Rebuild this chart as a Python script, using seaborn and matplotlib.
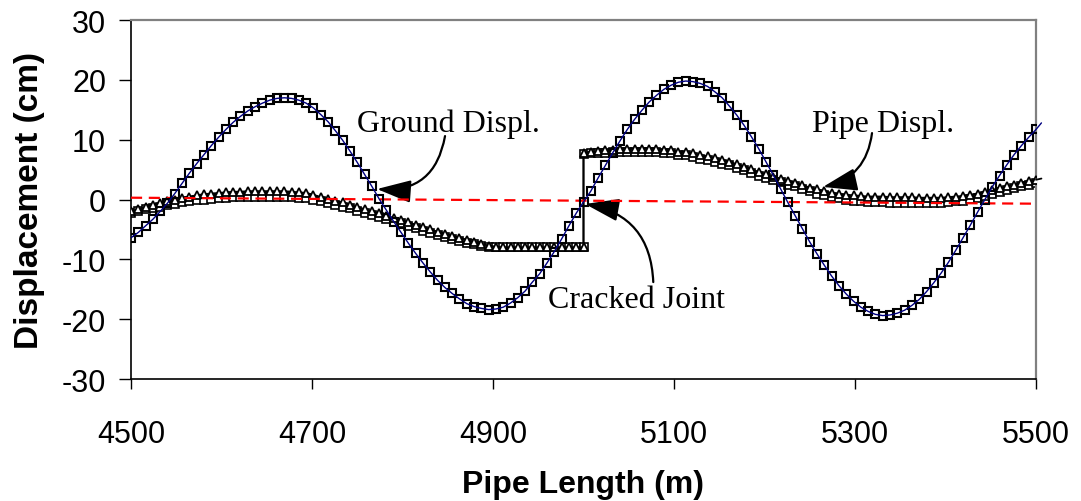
import numpy as np
import matplotlib
matplotlib.use("Agg")
import matplotlib.pyplot as plt
import seaborn as sns

# ---------------- data ----------------
x_ground = np.linspace(4500, 5500, 125)
ground = [-6.4, -5.5, -4.4, -3.3, -2.0, -0.6, 1.0, 2.7, 4.4, 6.0, 7.5, 9.0, 10.4, 11.7, 12.9, 13.9,
          14.8, 15.5, 16.1, 16.6, 16.9, 17.0,
          16.9, 16.6, 16.1, 15.3, 14.2, 13.0, 11.5, 9.9, 8.1, 6.2, 4.2, 2.2, 0.1,
          -1.8, -3.7, -5.5, -7.3, -9.0, -10.6, -12.1, -13.5, -14.7, -15.7, -16.6, -17.4, -17.9, -18.2, -18.4,
          -18.3, -18.0, -17.3, -16.4, -15.3, -13.8, -12.4, -10.6, -8.7, -6.6, -4.4, -2.3, -0.4,
          1.4, 3.6, 5.7, 7.8, 9.8, 11.7, 13.4, 14.9, 16.3, 17.4, 18.4, 19.1, 19.6, 19.8,
          19.7, 19.4, 18.9, 18.0, 17.0, 15.6, 14.1, 12.4, 10.5, 8.5, 6.3, 4.1, 1.8,
          -0.5, -2.7, -4.9, -7.1, -9.1, -11.0, -12.8, -14.4, -15.8, -17.0, -18.0, -18.7, -19.2, -19.4,
          -19.3, -19.0, -18.5, -17.7, -16.7, -15.4, -13.9, -12.3, -10.5, -8.5, -6.4, -4.3, -2.1,
          0.0, 2.1, 4.0, 5.8, 7.5, 9.0, 10.4, 11.7]
ground_tail_x = [5500, 5506]
ground_tail = [11.7, 12.8]

x_pipe_left = np.linspace(4500, 5000, 63)
x_pipe_right = np.linspace(5000, 5500, 63)
pipe_left = [-2.0, -1.6, -1.2, -0.9, -0.6, -0.3, 0.0, 0.3, 0.5, 0.7, 0.9, 1.0, 1.1, 1.2, 1.3, 1.3,
             1.4, 1.4, 1.4, 1.4, 1.4, 1.4, 1.3, 1.2, 1.1, 0.8, 0.4, 0.1, -0.2, -0.5, -0.9, -1.3,
             -1.6, -2.0, -2.3, -2.7, -3.1, -3.4, -3.8, -4.2, -4.6, -5.0, -5.4, -5.8, -6.1, -6.4,
             -6.8, -7.1, -7.4, -7.7, -7.9,
             -8.0, -8.0, -8.0, -8.0, -8.0, -8.0, -8.0, -8.0, -8.0, -8.0, -8.0, -8.0]
pipe_right = [7.8, 8.0, 8.1, 8.2, 8.3, 8.4, 8.4, 8.5, 8.5, 8.5, 8.4, 8.3, 8.2, 8.0, 7.9, 7.7,
              7.4, 7.2, 6.9, 6.6, 6.3, 5.9, 5.5, 5.1, 4.6, 4.2, 3.8, 3.5, 3.1, 2.8, 2.4, 2.0,
              1.7, 1.4, 1.1, 0.9, 0.8, 0.7, 0.6, 0.5, 0.5, 0.5, 0.4, 0.4, 0.4, 0.4, 0.3, 0.3,
              0.3, 0.3, 0.4, 0.5, 0.6, 0.8, 1.0, 1.3, 1.6, 1.9, 2.2, 2.5, 2.8, 3.1, 3.3]
pipe_sq_left = [-2.2, -1.9, -1.6, -1.4, -1.2, -1.0, -0.8, -0.5, -0.3, -0.1, 0.0, 0.1, 0.2, 0.3, 0.4, 0.4,
                0.5, 0.5, 0.5, 0.5, 0.5, 0.5, 0.4, 0.3, 0.2, 0.0, -0.3, -0.6, -0.9, -1.2, -1.5, -1.9,
                -2.2, -2.6, -2.9, -3.3, -3.7, -4.0, -4.4, -4.8, -5.2, -5.6, -6.0, -6.3, -6.6, -6.9,
                -7.2, -7.5, -7.7, -7.9, -8.0,
                -8.0, -8.0, -8.0, -8.0, -8.0, -8.0, -8.0, -8.0, -8.0, -8.0, -8.0, -8.0]
pipe_sq_right = [7.6, 7.7, 7.8, 7.8, 7.9, 8.0, 8.0, 8.0, 8.0, 8.0, 7.9, 7.8, 7.7, 7.5, 7.4, 7.1,
                 6.8, 6.6, 6.3, 6.0, 5.7, 5.3, 4.9, 4.5, 4.0, 3.6, 3.2, 2.9, 2.5, 2.2, 1.8, 1.4,
                 1.0, 0.7, 0.4, 0.2, 0.0, -0.2, -0.3, -0.4, -0.5, -0.5, -0.6, -0.6, -0.6, -0.6,
                 -0.6, -0.6, -0.6, -0.6, -0.5, -0.3, -0.2, 0.1, 0.3, 0.6, 0.9, 1.3, 1.6, 1.9,
                 2.2, 2.5, 2.7]
pipe_tail_x = [5500, 5506]
pipe_tail = [3.3, 3.5]

trend_x = [4500, 5500]
trend_y = [0.3, -0.7]

x_ticks = [4500, 4700, 4900, 5100, 5300, 5500]
y_ticks = [-30, -20, -10, 0, 10, 20, 30]
x_label = "Pipe Length (m)"
y_label = "Displacement (cm)"
ann_ground = "Ground Displ."
ann_pipe = "Pipe Displ."
ann_joint = "Cracked Joint"

# ---------------- plot ----------------
sns.set_theme(style="white")
plt.rcParams["font.family"] = ["Liberation Sans", "DejaVu Sans"]
plt.rcParams["text.color"] = "black"
plt.rcParams["axes.labelcolor"] = "black"

fig = plt.figure(figsize=(10.81, 5.02), dpi=100)
ax = fig.add_axes([131 / 1081, 1 - 380 / 502, (1036 - 131) / 1081, (380 - 21) / 502])

x_pipe = np.concatenate([x_pipe_left, x_pipe_right])
pipe = pipe_left + pipe_right
pipe_sq = pipe_sq_left + pipe_sq_right

# pipe displacement: squares series and triangles series
sns.lineplot(x=x_pipe, y=pipe_sq, ax=ax, estimator=None, sort=False, color="black",
             linewidth=1.3, marker="s", markersize=5.2, markerfacecolor="white",
             markeredgecolor="black", markeredgewidth=1.2, zorder=2)
sns.lineplot(x=x_pipe, y=pipe, ax=ax, estimator=None, sort=False, color="black",
             linewidth=1.3, marker="^", markersize=6.0, markerfacecolor="white",
             markeredgecolor="black", markeredgewidth=1.3, zorder=3)
sns.lineplot(x=pipe_tail_x, y=pipe_tail, ax=ax, estimator=None, sort=False, color="black",
             linewidth=1.3, zorder=3, clip_on=False)

# trend line
sns.lineplot(x=trend_x, y=trend_y, ax=ax, estimator=None, color="#FF0000", linewidth=1.6,
             dashes=False, zorder=4).lines[-1].set_dashes([5, 3])

# ground displacement
sns.lineplot(x=x_ground, y=ground, ax=ax, estimator=None, sort=False, color="black",
             linewidth=0, marker="s", markersize=5.4, markerfacecolor="none",
             markeredgecolor="black", markeredgewidth=1.5, zorder=5)
sns.lineplot(x=x_ground, y=ground, ax=ax, estimator=None, sort=False, color="#000080",
             linewidth=1.0, zorder=6)
sns.lineplot(x=ground_tail_x, y=ground_tail, ax=ax, estimator=None, sort=False, color="#000080",
             linewidth=1.0, zorder=6, clip_on=False)

ax.set_xlim(4500, 5500)
ax.set_ylim(-30, 30)
ax.set_xticks(x_ticks)
ax.set_yticks(y_ticks)
ax.set_xticklabels([str(v) for v in x_ticks])
ax.set_yticklabels([str(v) for v in y_ticks])
ax.tick_params(axis="both", which="major", direction="out", width=1.0,
               color="black", labelsize=22, labelcolor="black")
ax.tick_params(axis="x", length=7, pad=22)
ax.tick_params(axis="y", length=9, pad=9)
ax.xaxis.set_ticks_position("bottom")
ax.yaxis.set_ticks_position("left")
ax.grid(False)

for side in ["left", "bottom"]:
    ax.spines[side].set_color("black")
    ax.spines[side].set_linewidth(1.2)
for side in ["top", "right"]:
    ax.spines[side].set_color("#808080")
    ax.spines[side].set_linewidth(1.6)

ax.set_xlabel(x_label, fontsize=23, fontweight="bold", labelpad=14, color="black")
ax.set_ylabel(y_label, fontsize=24, fontweight="bold", labelpad=12, color="black")

serif = ["Liberation Serif", "DejaVu Serif"]
arrow_kw = dict(arrowstyle="-|>,head_length=1.05,head_width=0.35", color="black",
                linewidth=1.6, mutation_scale=20, shrinkA=0, shrinkB=0)

ax.text(4749.7, 11.45, ann_ground, fontsize=23, family=serif, ha="left", va="baseline", color="black")
ax.text(5252.5, 11.45, ann_pipe, fontsize=23, family=serif, ha="left", va="baseline", color="black")
ax.text(4960.8, -18.0, ann_joint, fontsize=23, family=serif, ha="left", va="baseline", color="black")

ax.annotate("", xy=(4771.8, 1.75), xytext=(4847, 10.6),
            arrowprops=dict(connectionstyle="arc3,rad=-0.45", **arrow_kw))
ax.annotate("", xy=(5264.6, 2.1), xytext=(5318.8, 11.1),
            arrowprops=dict(connectionstyle="arc3,rad=-0.35", **arrow_kw))
ax.annotate("", xy=(5001.7, -0.75), xytext=(5077.1, -13.8),
            arrowprops=dict(connectionstyle="arc3,rad=0.4", **arrow_kw))

fig.savefig("out.png", dpi=100)
